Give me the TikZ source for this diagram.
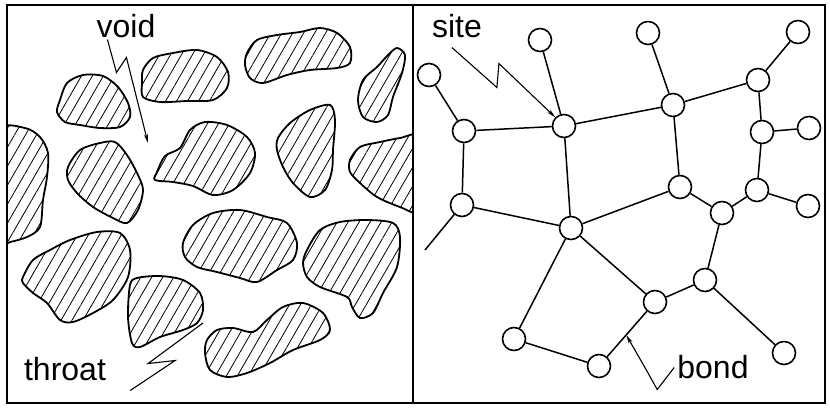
\documentclass[tikz,border=0pt]{standalone}
\usepackage{fontspec}
\setmainfont{Liberation Sans}
\usetikzlibrary{patterns.meta,arrows.meta}

\begin{document}
\begin{tikzpicture}[x=1pt,y=1pt]
\tikzstyle{every node}+=[inner sep=0pt]
\tikzstyle{grain}=[line width=1.8pt,pattern={Lines[angle=60,distance=9.5pt,line width=0.8pt]}]
\tikzstyle{ball}=[draw,circle,minimum size=23pt,line width=1.6pt]
\tikzstyle{bondline}=[line width=1.5pt]
\tikzstyle{zig}=[line width=1.1pt]
\tikzstyle{tip}=[-{Stealth[length=9pt,width=4pt]}]
\tikzstyle{lbl}=[anchor=base,font=\fontsize{32}{38}\selectfont]
\useasboundingbox (0,0) rectangle (830,-407);
\draw [black,line width=1.6pt] (7,-5) rectangle (825,-403);
\draw [black,line width=1.6pt] (413,-5) -- (413,-403);
% packed grains
\begin{scope}
\clip (7,-5) rectangle (413,-403);
\draw [grain] plot [smooth cycle] coordinates {(60,-100) (67,-83) (83,-75) (103,-76) (118,-87) (128,-103) (130,-117) (120,-127) (100,-128) (80,-125) (65,-122) (57,-112)};
\draw [grain] plot [smooth cycle] coordinates {(143,-70) (153,-58) (173,-53) (197,-50) (217,-57) (228,-72) (227,-88) (213,-100) (187,-101) (160,-102) (143,-97) (142,-83)};
\draw [grain] plot [smooth cycle] coordinates {(247,-53) (257,-40) (277,-35) (300,-32) (320,-28) (337,-33) (350,-47) (350,-63) (337,-68) (310,-70) (287,-75) (263,-83) (250,-78) (245,-65)};
\draw [grain] plot [smooth cycle] coordinates {(397,-48) (405,-55) (402,-73) (393,-97) (388,-115) (377,-122) (363,-117) (358,-100) (363,-80) (377,-67) (388,-55)};
\draw [grain] plot [smooth cycle] coordinates {(0,-130) (25,-128) (40,-137) (48,-153) (47,-177) (43,-200) (40,-227) (27,-237) (10,-242) (0,-243) (-6,-190)};
\draw [grain] plot [smooth cycle] coordinates {(68,-167) (80,-150) (100,-143) (115,-142) (127,-155) (138,-175) (143,-190) (138,-210) (127,-223) (113,-218) (93,-207) (77,-193) (68,-180)};
\draw [grain] plot [smooth cycle] coordinates {(157,-172) (165,-156) (180,-148) (190,-130) (205,-122) (227,-125) (247,-137) (255,-153) (250,-173) (233,-190) (213,-195) (193,-186) (173,-182) (155,-180)};
\draw [grain] plot [smooth cycle] coordinates {(278,-138) (290,-123) (310,-110) (330,-105) (335,-120) (333,-150) (332,-170) (325,-190) (310,-197) (293,-183) (283,-167) (277,-150)};
\draw [grain] plot [smooth cycle] coordinates {(350,-160) (360,-147) (380,-142) (400,-138) (420,-136) (425,-175) (420,-212) (400,-207) (377,-197) (360,-183) (350,-172)};
\draw [grain] plot [smooth cycle] coordinates {(23,-277) (33,-260) (50,-250) (70,-240) (97,-232) (120,-233) (130,-250) (128,-277) (113,-300) (93,-313) (73,-322) (60,-320) (47,-303) (33,-293) (23,-283)};
\draw [grain] plot [smooth cycle] coordinates {(130,-285) (137,-278) (160,-276) (183,-280) (200,-293) (203,-310) (197,-323) (183,-330) (160,-337) (140,-347) (132,-343) (128,-317)};
\draw [grain] plot [smooth cycle] coordinates {(183,-243) (193,-225) (213,-213) (240,-210) (267,-217) (287,-223) (297,-243) (293,-260) (277,-270) (257,-282) (240,-278) (217,-272) (197,-267) (185,-257)};
\draw [grain] plot [smooth cycle] coordinates {(307,-250) (320,-230) (340,-222) (367,-220) (393,-223) (400,-237) (397,-267) (383,-293) (373,-313) (360,-318) (352,-307) (347,-297) (320,-287) (307,-277) (303,-263)};
\draw [grain] plot [smooth cycle] coordinates {(207,-340) (217,-330) (233,-328) (253,-332) (267,-320) (283,-307) (303,-303) (323,-313) (330,-330) (320,-340) (293,-350) (270,-363) (247,-373) (227,-377) (210,-370) (205,-353)};
\end{scope}
\node [lbl] (void) at (126,-37) {void};
\node [lbl] (throat) at (65,-380) {throat};
\coordinate (pore) at (148,-143);
\coordinate (neck) at (203,-323);
\draw [zig,tip] ([xshift=11pt,yshift=-2pt]void.south west) -- ++(9,-33) -- ++(10,15) -- (pore);
\draw [zig] ([xshift=24pt,yshift=-10pt]throat.south east) -- ++(45,30) -- ++(-27,-3) -- (neck);
% site and bond network
\node [ball] (n0) at (429,-75) {};
\node [ball] (n1) at (540,-40) {};
\node [ball] (n2) at (648,-33) {};
\node [ball] (n3) at (798,-32) {};
\node [ball] (n4) at (464,-131) {};
\node [ball] (n5) at (564,-126) {};
\node [ball] (n6) at (673,-105) {};
\node [ball] (n7) at (758,-80) {};
\node [ball] (n8) at (762,-132) {};
\node [ball] (n9) at (809,-128) {};
\node [ball] (n10) at (680,-187) {};
\node [ball] (n11) at (757,-190) {};
\node [ball] (n12) at (722,-213) {};
\node [ball] (n13) at (808,-206) {};
\node [ball] (n14) at (462,-205) {};
\node [ball] (n15) at (571,-228) {};
\node [ball] (n16) at (705,-280) {};
\node [ball] (n17) at (655,-302) {};
\node [ball] (n18) at (514,-339) {};
\node [ball] (n19) at (599,-366) {};
\node [ball] (n20) at (784,-353) {};
\coordinate (e1) at (425,-250);
\draw [bondline] (n0) -- (n4);
\draw [bondline] (n4) -- (n5);
\draw [bondline] (n4) -- (n14);
\draw [bondline] (n1) -- (n5);
\draw [bondline] (n5) -- (n6);
\draw [bondline] (n5) -- (n15);
\draw [bondline] (n2) -- (n6);
\draw [bondline] (n6) -- (n7);
\draw [bondline] (n6) -- (n10);
\draw [bondline] (n3) -- (n7);
\draw [bondline] (n7) -- (n8);
\draw [bondline] (n8) -- (n9);
\draw [bondline] (n8) -- (n11);
\draw [bondline] (n10) -- (n15);
\draw [bondline] (n10) -- (n12);
\draw [bondline] (n12) -- (n11);
\draw [bondline] (n11) -- (n13);
\draw [bondline] (n12) -- (n16);
\draw [bondline] (n14) -- (n15);
\draw [bondline] (n14) -- (e1);
\draw [bondline] (n15) -- (n18);
\draw [bondline] (n15) -- (n17);
\draw [bondline] (n17) -- (n16);
\draw [bondline] (n16) -- (n20);
\draw [bondline] (n18) -- (n19);
\draw [bondline] (n19) -- (n17);
\path (n19) -- (n17) coordinate [pos=0.48] (b1);
\node [lbl] (site) at (457,-37) {site};
\node [lbl] (bond) at (713,-378) {bond};
\draw [zig,tip] ([xshift=20pt,yshift=-10pt]site.south west) -- ++(45,-40) -- ++(2,24) -- (n5.north west);
\draw [zig,tip] ([xshift=-3pt,yshift=11pt]bond.south west) -- ++(-17,-22) -- ++(-10,18) -- (b1);
\end{tikzpicture}
\end{document}
